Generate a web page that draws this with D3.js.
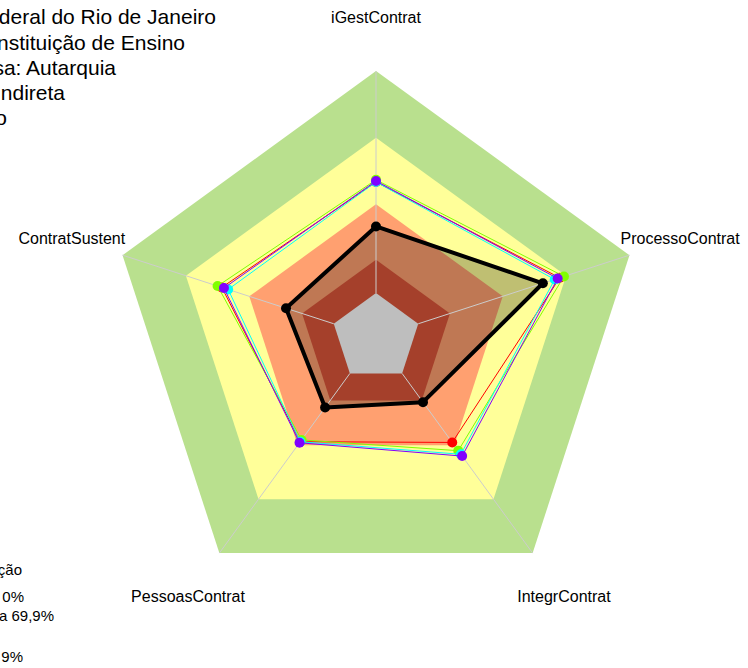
<!DOCTYPE html>
<html>
<head>
<meta charset="utf-8">
<script src="https://cdn.jsdelivr.net/npm/d3@7"></script>
<style>
  body { margin: 0; background: #fff; }
  svg { display: block; font-family: "Liberation Sans", Arial, sans-serif; }
</style>
</head>
<body>
<svg id="chart" width="748" height="668"></svg>
<script>
// axes, in drawing order (top, then counterclockwise)
var axes = ["iGestContrat", "ContratSustent", "PessoasContrat", "IntegrContrat", "ProcessoContrat"]

// background bands (percent levels) and their fills
var band_levels = [100, 70, 40, 15, 0]
var band_colors = ["#B9E08E", "#FFFF99", "#FFA070", "#A5402B", "#BEBEBE"]

// comparison series (rainbow(4)) and the highlighted one
var series_names = ["s1", "s2", "s3", "s4"]
var series_colors = ["#FF0000", "#80FF00", "#00FFFF", "#8000FF"]
var series_values = [
  [50, 53, 38, 38.4, 67],
  [51, 55, 37, 43, 69],
  [50, 50, 38, 45, 64.6],
  [50.5, 52, 38.6, 46, 66]
]
var main_values = [30, 22.6, 19, 16, 59]

var title_lines = ["Federal do Rio de Janeiro", "Instituição de Ensino", "sa: Autarquia", "Indireta", "o"]
var legend_lines = ["ção", "0%", "a 69,9%", "9%"]

var svg = d3.select("#chart")
var cx = 376, cy = 337.5, R = 266.5

var r = d3.scaleLinear().domain([0, 100]).range([R / 6, R])
var angle = function(i){ return -Math.PI / 2 - i * 2 * Math.PI / axes.length }

var pt = function(v, i){
  return [cx + r(v) * Math.cos(angle(i)), cy + r(v) * Math.sin(angle(i))]
}
var poly = function(vals){
  return vals.map(function(v, i){ return pt(v, i) })
}
var line = d3.line().curve(d3.curveLinearClosed)

var bandg = svg.append("g")
var fillg = svg.append("g")
var innerg = svg.append("g")
var axisg = svg.append("g")
var lineg = svg.append("g")
var textg = svg.append("g")

//bands
band_levels.forEach(function(lv, k){
  var g = (lv >= 40) ? bandg : innerg
  g.append("path")
    .attr("d", line(poly(axes.map(function(){ return lv }))))
    .attr("fill", band_colors[k])
})

//translucent fill of the main series
fillg.append("path")
  .attr("d", line(poly(main_values)))
  .attr("fill", "rgba(0,0,0,0.25)")

//radial axes
axes.forEach(function(a, i){
  var p0 = pt(0, i), p1 = pt(100, i)
  axisg.append("line")
    .attr("x1", p0[0]).attr("y1", p0[1])
    .attr("x2", p1[0]).attr("y2", p1[1])
    .attr("stroke", "#CCCCCC")
    .attr("stroke-width", 1)
})

//comparison series
series_values.forEach(function(vals, s){
  lineg.append("path")
    .attr("d", line(poly(vals)))
    .attr("fill", "none")
    .attr("stroke", series_colors[s])
    .attr("stroke-width", 1)
  lineg.selectAll(".pt-" + s)
      .data(poly(vals))
    .enter().append("circle")
      .attr("class", "pt-" + s)
      .attr("cx", function(d){ return d[0] })
      .attr("cy", function(d){ return d[1] })
      .attr("r", 5)
      .attr("fill", series_colors[s])
})

//main series
lineg.append("path")
  .attr("d", line(poly(main_values)))
  .attr("fill", "none")
  .attr("stroke", "#000")
  .attr("stroke-width", 4)
  .attr("stroke-linejoin", "round")
lineg.selectAll(".pt-main")
    .data(poly(main_values))
  .enter().append("circle")
    .attr("class", "pt-main")
    .attr("cx", function(d){ return d[0] })
    .attr("cy", function(d){ return d[1] })
    .attr("r", 5)
    .attr("fill", "#000")

//axis labels
axes.forEach(function(a, i){
  var lx = cx + 1.2 * R * Math.cos(angle(i))
  var ly = cy + 1.2 * R * Math.sin(angle(i))
  textg.append("text")
    .attr("x", lx).attr("y", ly)
    .attr("dy", "0.36em")
    .attr("text-anchor", "middle")
    .attr("font-size", 16)
    .attr("fill", "#000")
    .text(a)
})

//title block, clipped at the left edge
var title_ends = [216, 185, 116, 65, 7]
var title_base = [24, 50, 75, 100, 125]
title_lines.forEach(function(t, k){
  textg.append("text")
    .attr("x", title_ends[k]).attr("y", title_base[k])
    .attr("text-anchor", "end")
    .attr("font-size", 21)
    .attr("fill", "#000")
    .text(t)
})

//legend, clipped at the left edge
var legend_ends = [22, 24, 54, 23]
var legend_base = [575, 602, 621, 662]
legend_lines.forEach(function(t, k){
  textg.append("text")
    .attr("x", legend_ends[k]).attr("y", legend_base[k])
    .attr("text-anchor", "end")
    .attr("font-size", 15)
    .attr("fill", "#000")
    .text(t)
})
</script>
</body>
</html>
